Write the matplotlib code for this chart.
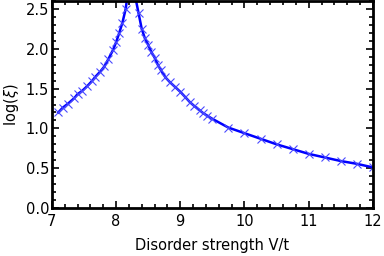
import matplotlib
matplotlib.use('Agg')
import matplotlib.pyplot as plt
from matplotlib.ticker import MultipleLocator

# disorder strength and log of localisation length
disorder = [7.1, 7.17, 7.25, 7.35, 7.4, 7.47, 7.55, 7.62, 7.68, 7.75, 7.82, 7.88,
            7.95, 8.0, 8.05, 8.1, 8.15, 8.2, 8.25, 8.3, 8.35, 8.4, 8.45, 8.5,
            8.55, 8.6, 8.65, 8.7, 8.77, 8.84, 8.92, 9.0, 9.07, 9.15, 9.22, 9.3,
            9.36, 9.42, 9.5, 9.75, 10.0, 10.25, 10.5, 10.75, 11.0, 11.25, 11.5,
            11.75, 12.0]
log_xi = [1.20, 1.26, 1.31, 1.38, 1.43, 1.47, 1.53, 1.59, 1.65, 1.71, 1.78, 1.87,
          1.98, 2.08, 2.20, 2.33, 2.50, 2.80, 2.90, 2.65, 2.45, 2.25, 2.13, 2.05,
          1.96, 1.89, 1.80, 1.73, 1.64, 1.58, 1.52, 1.46, 1.40, 1.33, 1.28, 1.23,
          1.19, 1.16, 1.12, 1.01, 0.94, 0.87, 0.80, 0.74, 0.68, 0.635, 0.59,
          0.555, 0.51]

fig = plt.figure(figsize=(3.84, 2.56), dpi=100)
ax = fig.add_axes([0.135, 0.1875, 0.836, 0.8085])

ax.plot(disorder, log_xi, color='#0000ff', linewidth=1.8, marker='x',
        markersize=6, markeredgewidth=0.8, markeredgecolor='#4a4aff')

ax.set_xlim(7, 12)
ax.set_ylim(0, 2.6)
ax.xaxis.set_major_locator(MultipleLocator(1))
ax.xaxis.set_minor_locator(MultipleLocator(0.2))
ax.yaxis.set_major_locator(MultipleLocator(0.5))
ax.yaxis.set_minor_locator(MultipleLocator(0.1))
ax.yaxis.set_major_formatter(plt.FormatStrFormatter('%.1f'))

ax.tick_params(which='both', direction='in', top=True, right=True,
               labelsize=10.5, width=1.2)
ax.tick_params(axis='x', pad=4)
ax.tick_params(axis='y', pad=2)
ax.tick_params(which='major', length=5)
ax.tick_params(which='minor', length=3)
for s in ax.spines.values():
    s.set_linewidth(2)

ax.set_xlabel('Disorder strength V/t', fontsize=10.5, labelpad=7)
ax.set_ylabel(r'log($\xi$)', fontsize=10.5, labelpad=3)

fig.savefig('out.png', dpi=100)
